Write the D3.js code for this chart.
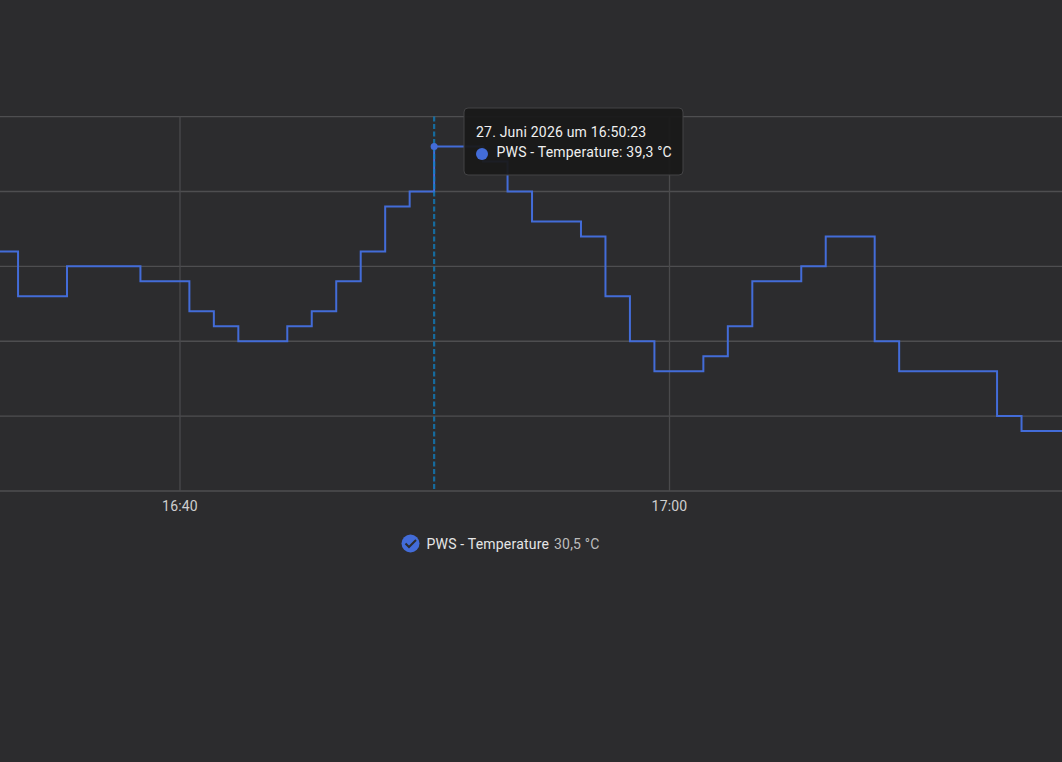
<!DOCTYPE html>
<html>
<head>
<meta charset="utf-8">
<script src="https://cdn.jsdelivr.net/npm/d3@7/dist/d3.min.js"></script>
<style>
  html, body { margin: 0; padding: 0; background: #2c2c2e; }
  svg { display: block; font-family: Roboto, sans-serif; }
  text { letter-spacing: 0.2px; }
</style>
</head>
<body>
<svg id="chart" width="1062" height="762"></svg>
<script>
// Minute offsets from the hovered sample (16:50:23) where the reading changes
const minuteOffsets = [-18, -17, -15, -12, -10, -9, -8, -6, -5, -4, -3, -2, -1, 0, 2, 3, 4, 6, 7, 8, 9, 11, 12, 13, 15, 16, 18, 19, 23, 24, 26];
// Temperature in °C held from each of those moments until the next one
const temperatures = [38.6, 38.3, 38.5, 38.4, 38.2, 38.1, 38.0, 38.1, 38.2, 38.4, 38.6, 38.9, 39.0, 39.3, 39.2, 39.0, 38.8, 38.7, 38.3, 38.0, 37.8, 37.9, 38.1, 38.4, 38.5, 38.7, 38.0, 37.8, 37.5, 37.4, 37.4];
const yTicks = [37, 37.5, 38, 38.5, 39, 39.5];
const xTickTimes = ["16:40", "17:00"];
const seriesName = "PWS - Temperature";
const tooltipDate = "27. Juni 2026 um 16:50:23";
const tooltipValue = "39,3 °C";
const legendValue = "30,5 °C";

const lineColor = "#436cd8";
const parseDay = d3.timeParse("%Y-%m-%d %H:%M:%S");
const hoverTime = parseDay("2026-06-27 16:50:23");
const times = minuteOffsets.map(m => d3.timeMinute.offset(hoverTime, m));
const series = times.map((t, i) => ({ t, v: temperatures[i] }));
const tickDates = xTickTimes.map(s => parseDay("2026-06-27 " + s + ":00"));

const svg = d3.select("#chart");

const x = d3.scaleTime().domain(tickDates).range([180, 669.5]);
const y = d3.scaleLinear().domain([37, 39.5]).range([491, 116.6]);

// Horizontal grid
const yAxis = d3.axisLeft(y).tickValues(yTicks).tickSize(-1062).tickFormat("").offset(0);
svg.append("g").call(yAxis)
  .call(g => g.select(".domain").remove())
  .call(g => g.selectAll("line").attr("stroke", "#4e4e50").attr("stroke-width", 1.3));

// Vertical grid with hour labels under the baseline
const xAxis = d3.axisBottom(x).tickValues(tickDates).tickSize(-374.4).tickSizeOuter(0)
  .tickPadding(10).offset(0).tickFormat(d3.timeFormat("%H:%M"));
svg.append("g").attr("transform", `translate(0,${y(37)})`).call(xAxis)
  .call(g => g.select(".domain").remove())
  .call(g => g.selectAll("line").attr("stroke", "#4a4a4c").attr("stroke-width", 1.3))
  .call(g => g.selectAll("text").attr("fill", "#cfcfcf").attr("font-size", 14).attr("font-family", "Roboto, sans-serif"));

// Temperature trace
const stepLine = d3.line().x(d => x(d.t)).y(d => y(d.v)).curve(d3.curveStepAfter);
svg.append("path").datum(series)
  .attr("fill", "none").attr("stroke", lineColor).attr("stroke-width", 2)
  .attr("d", stepLine);

// Hover crosshair and point
const hoverX = x(hoverTime);
svg.append("line")
  .attr("x1", hoverX).attr("x2", hoverX).attr("y1", y(39.5)).attr("y2", y(37))
  .attr("stroke", "#0f80c4").attr("stroke-width", 2.2).attr("stroke-opacity", 0.75).attr("stroke-dasharray", "5 2.5");
svg.append("circle").attr("cx", hoverX).attr("cy", y(39.3)).attr("r", 3.5).attr("fill", lineColor);

// Tooltip
const tip = svg.append("g").attr("transform", "translate(464,108)");
tip.append("rect").attr("x", 0).attr("y", 0).attr("width", 219).attr("height", 67).attr("rx", 4)
  .attr("fill", "#191919").attr("fill-opacity", 0.94).attr("stroke", "#434345");
tip.append("text").attr("x", 12).attr("y", 28).attr("dy", 0.5).attr("fill", "#f0f0f0").attr("font-size", 14).text(tooltipDate);
tip.append("circle").attr("cx", 18).attr("cy", 46).attr("r", 6).attr("fill", lineColor);
tip.append("text").attr("x", 32.5).attr("y", 49).attr("fill", "#f0f0f0").attr("font-size", 14)
  .text(`${seriesName}: ${tooltipValue}`);

// Legend
const legend = svg.append("g").attr("transform", "translate(0,544)");
legend.append("circle").attr("cx", 410.5).attr("cy", -0.5).attr("r", 9).attr("fill", lineColor);
legend.append("path").attr("d", d3.line()([[405.5, -0.5], [409, 3], [416, -4]]))
  .attr("fill", "none").attr("stroke", "#2c2c2e").attr("stroke-width", 2);
legend.append("text").attr("x", 426.5).attr("y", 5).attr("fill", "#e6e6e6").attr("font-size", 14).text(seriesName);
legend.append("text").attr("x", 554).attr("y", 5).attr("fill", "#bdbdbd").attr("font-size", 14).text(legendValue);
</script>
</body>
</html>
